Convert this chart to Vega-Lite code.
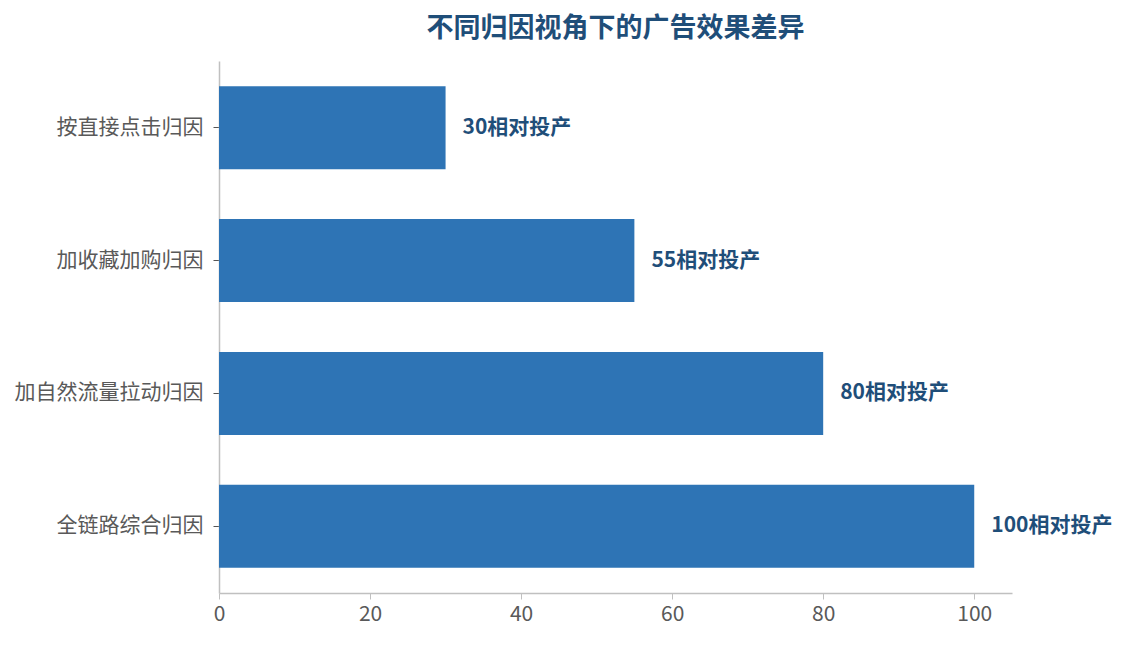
{
  "$schema": "https://vega.github.io/schema/vega-lite/v6.json",
  "description": "不同归因视角下的广告效果差异",
  "autosize": {"type": "none"},
  "padding": {"left": 219, "top": 61, "right": 115, "bottom": 52},
  "width": 793,
  "height": 532,
  "title": {
    "text": "不同归因视角下的广告效果差异",
    "font": "Noto Sans CJK SC",
    "fontSize": 27,
    "fontWeight": "bold",
    "color": "#1f4e79",
    "anchor": "middle",
    "offset": 18
  },
  "data": {
    "values": [
      {"attribution": "按直接点击归因", "roi": 30, "label": "30相对投产"},
      {"attribution": "加收藏加购归因", "roi": 55, "label": "55相对投产"},
      {"attribution": "加自然流量拉动归因", "roi": 80, "label": "80相对投产"},
      {"attribution": "全链路综合归因", "roi": 100, "label": "100相对投产"}
    ]
  },
  "encoding": {
    "y": {
      "field": "attribution",
      "type": "nominal",
      "sort": null,
      "scale": {"paddingInner": 0.375, "paddingOuter": 0.19},
      "axis": {
        "title": null,
        "domainColor": "#c0c0c0",
        "domainWidth": 1.5,
        "tickColor": "#555555",
        "tickSize": 6,
        "labelPadding": 10,
        "labelLimit": 400,
        "labelFont": "Noto Sans CJK SC",
        "labelFontSize": 21,
        "labelColor": "#595959"
      }
    },
    "x": {
      "field": "roi",
      "type": "quantitative",
      "scale": {"domain": [0, 105], "nice": false},
      "axis": {
        "title": null,
        "values": [0, 20, 40, 60, 80, 100],
        "grid": false,
        "labelFlush": false,
        "domainColor": "#c0c0c0",
        "domainWidth": 1.5,
        "tickColor": "#c0c0c0",
        "tickSize": 6,
        "labelPadding": 4,
        "labelFont": "Noto Sans CJK SC",
        "labelFontSize": 21,
        "labelColor": "#595959"
      }
    }
  },
  "layer": [
    {"mark": {"type": "bar", "color": "#2e74b5"}},
    {
      "mark": {
        "type": "text",
        "align": "left",
        "baseline": "middle",
        "dx": 17,
        "font": "Noto Sans CJK SC",
        "fontSize": 21,
        "fontWeight": "bold",
        "color": "#1f4e79"
      },
      "encoding": {"text": {"field": "label"}}
    }
  ],
  "config": {"view": {"stroke": null}}
}
